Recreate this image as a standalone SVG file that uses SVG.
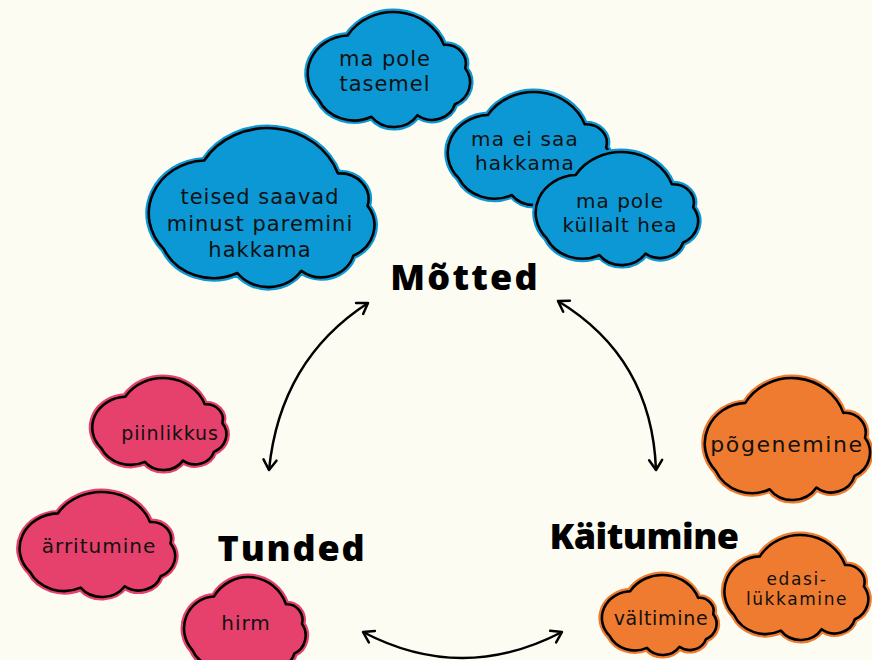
<svg xmlns="http://www.w3.org/2000/svg" xmlns:xlink="http://www.w3.org/1999/xlink" width="872" height="660" viewBox="0 0 872 660">
<style>
.rim{stroke-width:7;stroke-linejoin:round}
.edge{fill:none;stroke:#000;stroke-width:2.6;stroke-linejoin:round}
.blue{fill:#0b98d5;stroke:#0b98d5}
.pink{fill:#e6406c;stroke:#e6406c}
.orange{fill:#ee7b2f;stroke:#ee7b2f}
.t{font-family:"DejaVu Sans","Liberation Sans",sans-serif;font-size:20px;fill:#111;text-anchor:middle;letter-spacing:1px}
.h{font-family:"Open Sans","Liberation Sans",sans-serif;font-size:36px;font-weight:800;fill:#000;text-anchor:middle}
.arr{fill:none;stroke:#000;stroke-width:2.5;marker-start:url(#ah);marker-end:url(#ah)}
</style>
<defs>
<path id="cloud" vector-effect="non-scaling-stroke" d="M16,112 A49,49 0 0 1 50,30 A63,63 0 0 1 163,42 A24,24 0 0 1 188,72 A31,31 0 0 1 176,118 A28,28 0 0 1 132,132 A33,33 0 0 1 78,134 A46,46 0 0 1 16,112 Z"/>
<marker id="ah" markerUnits="userSpaceOnUse" markerWidth="20" markerHeight="20" viewBox="-12 -10 14 20" refX="0" refY="0" orient="auto-start-reverse">
<path d="M-10,-6.5 L0,0 L-10,6.5" fill="none" stroke="#000" stroke-width="2.5" stroke-linecap="round" stroke-linejoin="round"/>
</marker>
</defs>
<rect width="872" height="660" fill="#fcfcf3"/>
<g id="connectors">
<path class="arr" d="M368,303 Q280,360 269,470"/>
<path class="arr" d="M558,301 Q652,358 656,470"/>
<path class="arr" d="M363,632 Q462,684 562,632"/>
</g>
<g id="c-tasemel">
<use xlink:href="#cloud" class="rim blue" transform="translate(305,12) scale(0.852,0.782)"/>
<use xlink:href="#cloud" class="edge" transform="translate(305,12) scale(0.852,0.782)"/>
<text class="t" style="font-size:21px" x="385" y="66">ma pole<tspan x="385" dy="24.5">tasemel</tspan></text>
</g>
<g id="c-teised">
<use xlink:href="#cloud" class="rim blue" transform="translate(145,128) scale(1.184,1.082)"/>
<use xlink:href="#cloud" class="edge" transform="translate(145,128) scale(1.184,1.082)"/>
<text class="t" style="font-size:21px" x="260" y="204">teised saavad<tspan x="260" dy="26.5">minust paremini</tspan><tspan x="260" dy="26.5">hakkama</tspan></text>
</g>
<g id="c-eisaa">
<use xlink:href="#cloud" class="rim blue" transform="translate(445,92) scale(0.857,0.769)"/>
<use xlink:href="#cloud" class="edge" transform="translate(445,92) scale(0.857,0.769)"/>
<text class="t" style="letter-spacing:1.2px" x="525" y="146">ma ei saa<tspan x="525" dy="23.8">hakkama</tspan></text>
</g>
<g id="c-kullalt">
<use xlink:href="#cloud" class="rim blue" transform="translate(533,152) scale(0.852,0.769)"/>
<use xlink:href="#cloud" class="edge" transform="translate(533,152) scale(0.852,0.769)"/>
<text class="t" x="620" y="208">ma pole<tspan x="620" dy="23.8">küllalt hea</tspan></text>
</g>
<g id="motted"><text class="h" style="letter-spacing:2.2px" x="465" y="290">Mõtted</text></g>
<g id="tunded"><text class="h" style="letter-spacing:1.8px" x="292" y="561">Tunded</text></g>
<g id="kaitumine"><text class="h" style="letter-spacing:-0.5px" x="644" y="549">Käitumine</text></g>
<g id="c-piinlikkus">
<use xlink:href="#cloud" class="rim pink" transform="translate(90,378) scale(0.704,0.626)"/>
<use xlink:href="#cloud" class="edge" transform="translate(90,378) scale(0.704,0.626)"/>
<text class="t" style="font-size:19px;letter-spacing:0.9px" x="170" y="440">piinlikkus</text>
</g>
<g id="c-arritumine">
<use xlink:href="#cloud" class="rim pink" transform="translate(17,492) scale(0.816,0.714)"/>
<use xlink:href="#cloud" class="edge" transform="translate(17,492) scale(0.816,0.714)"/>
<text class="t" x="99" y="553">ärritumine</text>
</g>
<g id="c-hirm">
<use xlink:href="#cloud" class="rim pink" transform="translate(182,577) scale(0.638,0.65)"/>
<use xlink:href="#cloud" class="edge" transform="translate(182,577) scale(0.638,0.65)"/>
<text class="t" x="246" y="630">hirm</text>
</g>
<g id="c-pogenemine">
<use xlink:href="#cloud" class="rim orange" transform="translate(702,378) scale(0.867,0.83)"/>
<use xlink:href="#cloud" class="edge" transform="translate(702,378) scale(0.867,0.83)"/>
<text class="t" style="font-size:22px;letter-spacing:1.6px" x="787" y="452">põgenemine</text>
</g>
<g id="c-valtimine">
<use xlink:href="#cloud" class="rim orange" transform="translate(600,575) scale(0.602,0.544)"/>
<use xlink:href="#cloud" class="edge" transform="translate(600,575) scale(0.602,0.544)"/>
<text class="t" style="font-size:19px;letter-spacing:0.7px" x="661" y="625">vältimine</text>
</g>
<g id="c-edasi">
<use xlink:href="#cloud" class="rim orange" transform="translate(722,535) scale(0.755,0.714)"/>
<use xlink:href="#cloud" class="edge" transform="translate(722,535) scale(0.755,0.714)"/>
<text class="t" style="font-size:17px;letter-spacing:1.6px" x="797" y="585">edasi-<tspan x="797" dy="20.2">lükkamine</tspan></text>
</g>
</svg>
